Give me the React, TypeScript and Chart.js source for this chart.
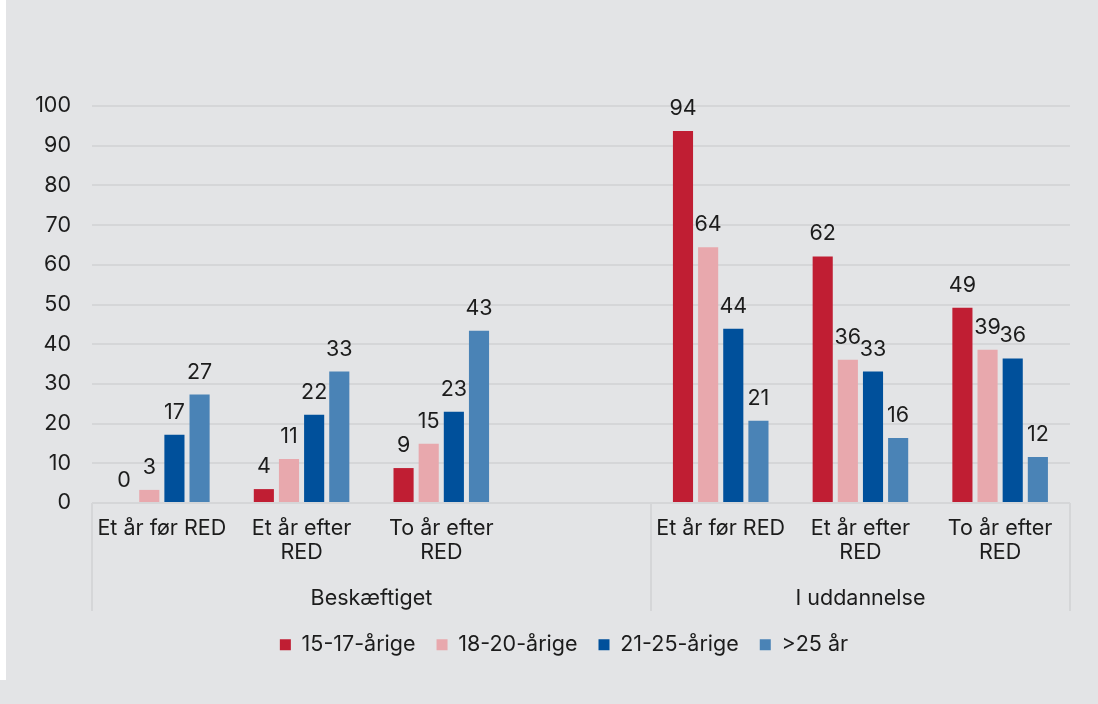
import React, { useEffect, useRef } from "react";
import { Chart, registerables } from "chart.js";

Chart.register(...registerables);

const categories: (string | string[])[] = [
  "Et år før RED",
  ["Et år efter", "RED"],
  ["To år efter", "RED"],
  "",
  "Et år før RED",
  ["Et år efter", "RED"],
  ["To år efter", "RED"],
];

const groupLabels = ["Beskæftiget", "I uddannelse"];
const groupStart = [0, 4];
const groupEnd = [3, 6];

const seriesNames = ["15-17-årige", "18-20-årige", "21-25-årige", ">25 år"];
const seriesColors = ["#c01e33", "#e8a8ad", "#00509b", "#4a83b6"];

const age15_17 = [0, 3.5, 8.8, null, 93.7, 62.1, 49.2];
const age18_20 = [3.3, 11.1, 14.9, null, 64.4, 36.1, 38.6];
const age21_25 = [17.2, 22.2, 23.0, null, 43.9, 33.1, 36.4];
const age25plus = [27.3, 33.1, 43.4, null, 20.7, 16.4, 11.6];

const yTicks = [0, 10, 20, 30, 40, 50, 60, 70, 80, 90, 100];

const TEXT = "#1c1c1c";
const GRID = "#d5d6d8";
const FONT = "Inter";
const FS = 21.5;

const valueLabels = {
  id: "valueLabels",
  afterDatasetsDraw(chart: any) {
    const ctx = chart.ctx;
    ctx.save();
    ctx.font = `${FS}px ${FONT}`;
    ctx.fillStyle = TEXT;
    ctx.textAlign = "center";
    ctx.textBaseline = "alphabetic";
    chart.data.datasets.forEach((ds: any, di: number) => {
      const meta = chart.getDatasetMeta(di);
      meta.data.forEach((el: any, i: number) => {
        const v = ds.data[i];
        if (v === null || v === undefined) return;
        ctx.fillText(String(Math.round(v)), el.x, el.y - 16);
      });
    });
    ctx.restore();
  },
};

const groupAxis = {
  id: "groupAxis",
  afterDraw(chart: any) {
    const ctx = chart.ctx;
    const x = chart.scales.x;
    const n = chart.data.labels.length;
    const cw = (x.right - x.left) / n;
    const bottom = chart.chartArea.bottom;
    ctx.save();
    ctx.strokeStyle = GRID;
    ctx.lineWidth = 2;
    const edges: number[] = [];
    groupLabels.forEach((g, gi) => {
      const l = x.getPixelForValue(groupStart[gi]) - cw / 2;
      const r = x.getPixelForValue(groupEnd[gi]) + cw / 2;
      edges.push(l, r);
      ctx.fillStyle = TEXT;
      ctx.font = `${FS}px ${FONT}`;
      ctx.textAlign = "center";
      ctx.textBaseline = "middle";
      ctx.fillText(g, (l + r) / 2, bottom + 96);
    });
    Array.from(new Set(edges.map((e) => Math.round(e)))).forEach((e) => {
      ctx.beginPath();
      ctx.moveTo(e, bottom);
      ctx.lineTo(e, bottom + 108);
      ctx.stroke();
    });
    ctx.restore();
  },
};

const legendShift = {
  id: "legendShift",
  afterLayout(chart: any) {
    if (chart.legend) {
      chart.legend.left += 29;
      chart.legend.right += 29;
    }
  },
};

export default function App() {
  const ref = useRef<HTMLCanvasElement | null>(null);

  useEffect(() => {
    document.body.style.margin = "0";
    document.body.style.background = "#e3e4e6";
    if (!ref.current) return;
    const seriesData = [age15_17, age18_20, age21_25, age25plus];
    const chart = new Chart(ref.current, {
      type: "bar",
      data: {
        labels: categories,
        datasets: seriesNames.map((name, i) => ({
          label: name,
          data: seriesData[i],
          backgroundColor: seriesColors[i],
          borderWidth: 0,
          categoryPercentage: 0.72,
          barPercentage: 0.8,
        })),
      },
      options: {
        animation: false,
        responsive: true,
        maintainAspectRatio: false,
        layout: { padding: { top: 106, right: 28, bottom: 38.5, left: 0 } },
        plugins: {
          tooltip: { enabled: false },
          legend: {
            position: "bottom",
            labels: {
              boxWidth: 11,
              boxHeight: 11,
              padding: 21,
              color: TEXT,
              font: { family: FONT, size: FS },
            },
          },
        },
        scales: {
          x: {
            grid: { display: false, drawTicks: false },
            border: { display: false },
            ticks: {
              autoSkip: false,
              maxRotation: 0,
              minRotation: 0,
              padding: 13,
              color: TEXT,
              font: { family: FONT, size: FS, lineHeight: 1.12 },
            },
            afterFit(scale: any) {
              scale.height = 110;
            },
          },
          y: {
            min: 0,
            max: 100,
            afterBuildTicks(scale: any) {
              scale.ticks = yTicks.map((v) => ({ value: v }));
            },
            grid: { color: GRID, lineWidth: 2, drawTicks: false },
            border: { display: false },
            ticks: {
              padding: 21,
              color: TEXT,
              font: { family: FONT, size: FS },
            },
            afterFit(scale: any) {
              scale.width = 92;
            },
          },
        },
      },
      plugins: [valueLabels, groupAxis, legendShift],
    });
    return () => chart.destroy();
  }, []);

  return (
    <div style={{ position: "relative", width: 1098, height: 704, background: "#e3e4e6" }}>
      <div style={{ position: "absolute", left: 0, top: 0, width: 6, height: 680, background: "#ffffff" }} />
      <canvas ref={ref} />
    </div>
  );
}
